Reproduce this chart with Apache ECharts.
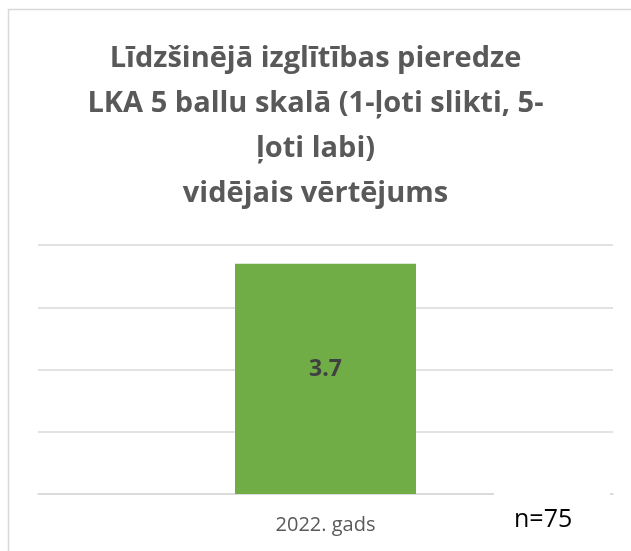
<!DOCTYPE html>
<html>
<head>
<meta charset="utf-8">
<script src="https://cdn.jsdelivr.net/npm/echarts@6/dist/echarts.min.js"></script>
<style>
  html, body { margin: 0; padding: 0; background: #fff; }
  #chart { width: 631px; height: 551px; }
</style>
</head>
<body>
<div id="chart"></div>
<script>
// dati
var categories = ['2022. gads'];
var values = [3.7];
var axisMax = 4;
var titleText = 'Līdzšinējā izglītības pieredze\nLKA 5 ballu skalā (1-ļoti slikti, 5-\nļoti labi)\nvidējais vērtējums';
var noteText = 'n=75';

var myChart = echarts.init(document.getElementById('chart'));
var option = {
    backgroundColor: '#fff',
    animation: false,
    title: {
        text: titleText,
        left: 'center',
        top: 31,
        textStyle: {
            fontFamily: 'Open Sans',
            fontWeight: 'bold',
            fontSize: 29,
            lineHeight: 45,
            color: '#595959'
        }
    },
    grid: { left: 38, right: 18, top: 245, bottom: 57 },
    xAxis: {
        type: 'category',
        data: categories,
        axisTick: { show: false },
        axisLine: { lineStyle: { color: '#d9d9d9', width: 1.5 } },
        axisLabel: {
            margin: 21,
            fontFamily: 'Open Sans',
            fontSize: 20,
            color: '#595959'
        }
    },
    yAxis: {
        type: 'value',
        min: 0,
        max: axisMax,
        interval: 1,
        axisLabel: { show: false },
        axisLine: { show: false },
        axisTick: { show: false },
        splitLine: { lineStyle: { color: '#d9d9d9', width: 1.5 } }
    },
    series: [{
        type: 'bar',
        data: values,
        barWidth: 181,
        itemStyle: { color: '#70ad47' },
        label: {
            show: true,
            position: 'inside',
            offset: [0, -9],
            fontFamily: 'Open Sans',
            fontWeight: 'bold',
            fontSize: 23,
            color: '#404040'
        }
    }],
    graphic: [
        {
            // rāmis (redzama tikai kreisā un augšējā mala)
            type: 'rect',
            shape: { x: 8.5, y: 9.5, width: 800, height: 800 },
            style: { fill: null, stroke: '#d9d9d9', lineWidth: 1.5 },
            silent: true
        },
        {
            type: 'rect',
            shape: { x: 494, y: 492, width: 116, height: 60 },
            style: { fill: '#fff' },
            z: 100
        },
        {
            type: 'text',
            left: 514,
            top: 507,
            z: 101,
            style: {
                text: noteText,
                fontFamily: 'Open Sans',
                fontSize: 25,
                fill: '#000'
            }
        }
    ]
};
myChart.setOption(option);
</script>
</body>
</html>
